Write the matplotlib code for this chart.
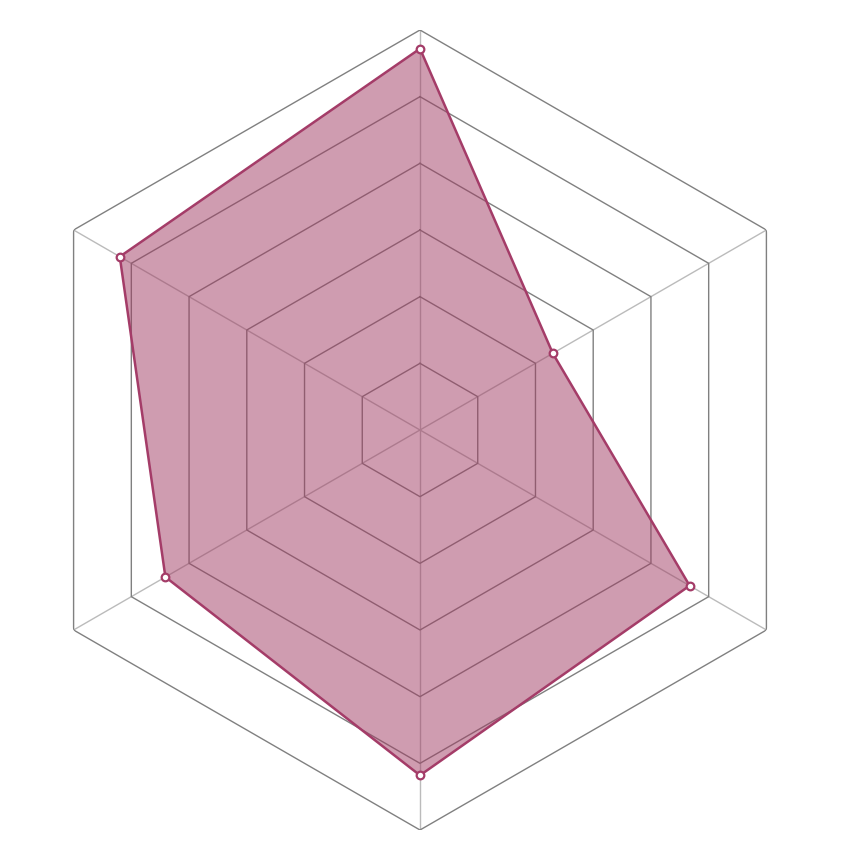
import numpy as np
import matplotlib
matplotlib.use("Agg")
import matplotlib.pyplot as plt

# Data (clockwise from top)
indicators = ["A", "B", "C", "D", "E", "F"]
values = [5.72, 2.30, 4.67, 5.18, 4.41, 5.20]
max_value = 6
rings = [1, 2, 3, 4, 5, 6]

line_color = "#a43c68"
fill_color = "#a03b62"

fig = plt.figure(figsize=(8.6, 8.6), dpi=100)
ax = fig.add_axes([20/860, 30/860, 800/860, 800/860], projection="polar")
ax.set_theta_offset(np.pi / 2)
ax.set_theta_direction(-1)
ax.set_ylim(0, max_value)
ax.axis("off")

n = len(indicators)
angles = np.linspace(0, 2 * np.pi, n, endpoint=False)
closed = np.append(angles, angles[0])

# spokes
for a in angles:
    ax.plot([a, a], [0, max_value], color="#bbbbbb", lw=1.0, zorder=1)
# rings
for r in rings:
    ax.plot(closed, [r] * (n + 1), color="#808080", lw=1.0, zorder=1)

vals = np.append(values, values[0])
ax.fill(closed, vals, color=fill_color, alpha=0.5, lw=0, zorder=2)
ax.plot(closed, vals, color=line_color, lw=1.8, zorder=3)
ax.plot(angles, values, "o", ms=5.5, mfc="white", mec=line_color, mew=1.6, zorder=4,
        clip_on=False)

fig.savefig("out.png", dpi=100)
